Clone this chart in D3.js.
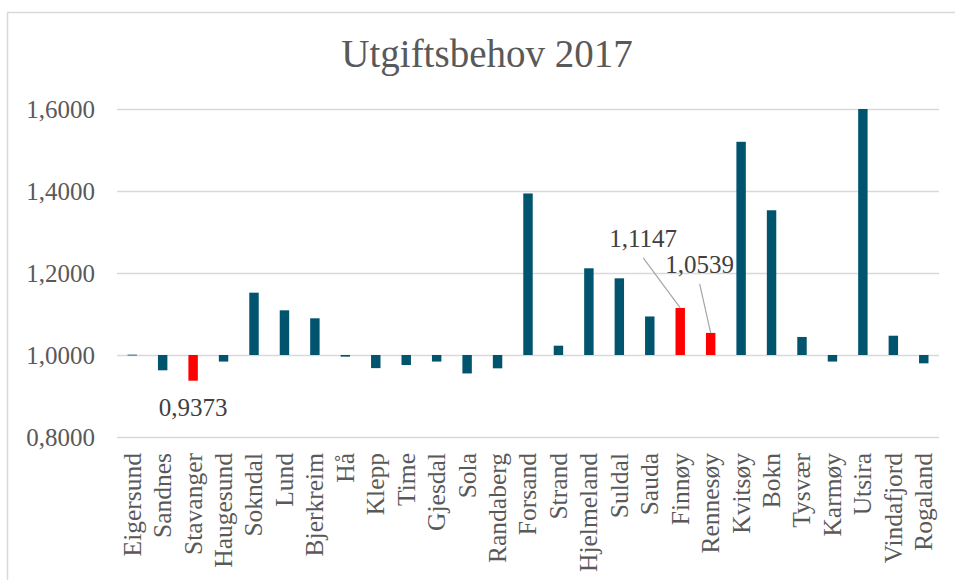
<!DOCTYPE html>
<html>
<head>
<meta charset="utf-8">
<script src="https://cdn.jsdelivr.net/npm/d3@7"></script>
<style>
  body { margin: 0; background: #fff; }
  text { font-family: "Liberation Serif", "DejaVu Serif", serif; }
</style>
</head>
<body>
<div id="chart"></div>
<script>
// kommuner i Rogaland, utgiftsbehov 2017 (indeks)
const kommuner = ['Eigersund', 'Sandnes', 'Stavanger', 'Haugesund', 'Sokndal', 'Lund', 'Bjerkreim', 'Hå',
  'Klepp', 'Time', 'Gjesdal', 'Sola', 'Randaberg', 'Forsand', 'Strand', 'Hjelmeland', 'Suldal', 'Sauda',
  'Finnøy', 'Rennesøy', 'Kvitsøy', 'Bokn', 'Tysvær', 'Karmøy', 'Utsira', 'Vindafjord', 'Rogaland'];
const behov = [1.0008, 0.9627, 0.9373, 0.9840, 1.1520, 1.1090, 1.0895, 0.9960,
  0.9680, 0.9756, 0.9840, 0.9550, 0.9675, 1.3940, 1.0227, 1.2115, 1.1870, 1.0940,
  1.1147, 1.0539, 1.5200, 1.3530, 1.0440, 0.9840, 1.6000, 1.0470, 0.9797];
const yTicks = [0.8, 1.0, 1.2, 1.4, 1.6];
const uthevet = ['Stavanger', 'Finnøy', 'Rennesøy'];
// data labels: offset of label from bar end (dx, dy); leader = draw a line to the bar
const etiketter = [
  {name: 'Stavanger', dx: 0, dy: 35, leader: false},
  {name: 'Finnøy', dx: -37, dy: -61, leader: true},
  {name: 'Rennesøy', dx: -11, dy: -60, leader: true}
];

const W = 955, H = 580;
const margin = {top: 109, right: 16, bottom: 143, left: 117};

const svg = d3.select('#chart').append('svg')
  .attr('width', W)
  .attr('height', H);

svg.append('rect')
  .attr('x', 7.5).attr('y', 12.5)
  .attr('width', 1000).attr('height', 1000)
  .attr('fill', '#fff')
  .attr('stroke', '#d9d9d9')
  .attr('stroke-width', 1.5);

const x = d3.scaleBand()
  .domain(kommuner)
  .range([margin.left, W - margin.right])
  .paddingInner(0.69)
  .paddingOuter(0.345);

const y = d3.scaleLinear()
  .domain([0.8, 1.6])
  .range([H - margin.bottom, margin.top]);

const fmt = v => d3.format('.4f')(v).replace('.', ',');

// title
svg.append('text')
  .attr('x', 487).attr('y', 67)
  .attr('text-anchor', 'middle')
  .attr('font-size', 39)
  .attr('fill', '#595959')
  .text('Utgiftsbehov 2017');

// gridlines + y labels
const yAxis = d3.axisLeft(y)
  .tickValues(yTicks)
  .tickSize(-(W - margin.right - margin.left))
  .tickPadding(22)
  .tickFormat(fmt);

const gy = svg.append('g')
  .attr('transform', `translate(${margin.left},0)`)
  .call(yAxis);
gy.select('.domain').remove();
gy.selectAll('.tick line').attr('stroke', '#d9d9d9').attr('stroke-width', 1.5);
gy.selectAll('.tick text')
  .attr('fill', '#595959')
  .attr('font-size', 25)
  .attr('font-family', '"Liberation Serif", serif');

// bars from 1.0
const data = kommuner.map((k, i) => ({name: k, value: behov[i]}));

svg.append('g')
  .selectAll('rect')
  .data(data)
  .join('rect')
  .attr('x', d => x(d.name))
  .attr('width', x.bandwidth())
  .attr('y', d => Math.min(y(d.value), y(1)))
  .attr('height', d => Math.max(Math.abs(y(d.value) - y(1)), 0.8))
  .attr('fill', d => uthevet.includes(d.name) ? '#ff0000' : '#00546e');

// x labels
const xAxis = d3.axisBottom(x).tickSize(0).tickPadding(0);
const gx = svg.append('g')
  .attr('transform', `translate(0,${y(0.8)})`)
  .call(xAxis);
gx.select('.domain').remove();
gx.selectAll('.tick text')
  .attr('font-size', 25.5)
  .attr('font-family', '"Liberation Serif", serif')
  .attr('fill', '#595959')
  .attr('text-anchor', 'end')
  .attr('transform', 'rotate(-90)')
  .attr('x', -16)
  .attr('y', 0)
  .attr('dy', '0.33em');

// data labels
const lab = svg.append('g');
etiketter.forEach(e => {
  const d = data.find(v => v.name === e.name);
  const cx = x(d.name) + x.bandwidth() / 2;
  const cy = y(d.value);
  if (e.leader) {
    lab.append('line')
      .attr('x1', cx + e.dx).attr('y1', cy + e.dy + 11)
      .attr('x2', cx).attr('y2', cy)
      .attr('stroke', '#a6a6a6')
      .attr('stroke-width', 1.2);
  }
  lab.append('text')
    .attr('x', cx + e.dx)
    .attr('y', cy + e.dy)
    .attr('text-anchor', 'middle')
    .attr('font-size', 25)
    .attr('fill', '#404040')
    .text(fmt(d.value));
});
</script>
</body>
</html>
